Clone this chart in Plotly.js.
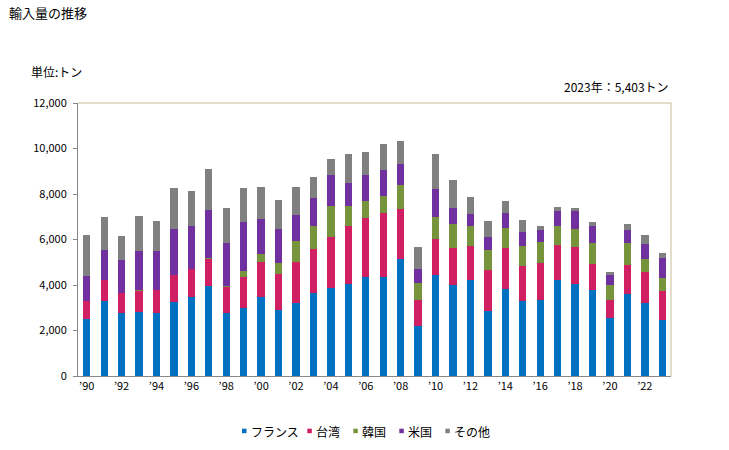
<!DOCTYPE html>
<html>
<head>
<meta charset="utf-8">
<script src="https://cdn.plot.ly/plotly-3.0.1.min.js"></script>
<style>html,body{margin:0;padding:0;background:#fff;}#chart{width:729px;height:450px;}</style>
</head>
<body>
<div id="chart"></div>
<script>
const years = [1990,1991,1992,1993,1994,1995,1996,1997,1998,1999,2000,2001,2002,2003,2004,2005,2006,2007,2008,2009,2010,2011,2012,2013,2014,2015,2016,2017,2018,2019,2020,2021,2022,2023];
const france = [2500,3300,2770,2830,2770,3270,3480,3960,2770,3010,3480,2920,3210,3650,3890,4060,4330,4360,5150,2220,4450,4000,4240,2860,3830,3300,3360,4240,4060,3800,2570,3620,3210,2480];
const taiwan = [800,940,880,920,1010,1170,1230,1190,1150,1320,1550,1580,1820,1940,2230,2540,2620,2820,2200,1140,1580,1630,1480,1800,1800,1540,1610,1530,1610,1140,790,1260,1360,1260];
const korea  = [0,0,0,50,0,0,0,45,45,290,350,470,910,1010,1360,880,750,750,1060,730,970,1060,880,880,880,880,920,840,790,910,650,970,570,570];
const usa    = [1100,1300,1450,1700,1720,2020,1890,2110,1890,2160,1530,1470,1145,1230,1360,1010,1140,1140,920,620,1230,700,530,570,660,620,530,660,790,750,440,570,660,880];
const other  = [1800,1450,1060,1540,1320,1800,1540,1800,1540,1500,1410,1310,1230,920,700,1280,1010,1140,1010,970,1540,1230,750,700,530,530,180,180,130,180,130,260,400,213];
const seriesNames = ['フランス','台湾','韓国','米国','その他'];
const seriesColors = ['#0070C0','#D01F62','#77933C','#7030A0','#808080'];
const tickVals = [1990,1992,1994,1996,1998,2000,2002,2004,2006,2008,2010,2012,2014,2016,2018,2020,2022];
const tickText = ['’90','’92','’94','’96','’98','’00','’02','’04','’06','’08','’10','’12','’14','’16','’18','’20','’22'];
const yTicks = [0,2000,4000,6000,8000,10000,12000];
const yTickText = ['0','2,000','4,000','6,000','8,000','10,000','12,000'];

const W = 729, H = 450;
const M = {l: 78, r: 58, t: 103, b: 74};
const PW = W - M.l - M.r, PH = H - M.t - M.b;
const px = x => (x - M.l) / PW;
const py = y => (H - M.b - y) / PH;

const font = "'Noto Sans CJK JP', 'Noto Sans', sans-serif";
const allSeries = [france, taiwan, korea, usa, other];
const traces = allSeries.map((vals, i) => ({
  type: 'bar', x: years, y: vals, name: seriesNames[i],
  marker: {color: seriesColors[i], line: {width: 0}},
  width: 0.42, hoverinfo: 'x+y+name', showlegend: false
}));

// custom legend (pixel positions of marker squares and labels)
const legSquareX = [242, 307.3, 353.3, 399.3, 445.3];
const legTextX = [248.5, 314, 360, 406, 452];
const legY = 431;
const shapes = [
  {type: 'line', xref: 'paper', yref: 'paper', x0: 0, x1: 1, y0: 1, y1: 1, line: {color: '#C4BC96', width: 1}},
  {type: 'line', xref: 'paper', yref: 'paper', x0: 1, x1: 1, y0: 0, y1: 1, line: {color: '#C4BC96', width: 1}}
];
const annotations = [
  {text: '輸入量の推移', xref: 'paper', yref: 'paper', x: px(7), y: py(12), xanchor: 'left', yanchor: 'middle',
   showarrow: false, font: {family: font, size: 13, color: '#000'}},
  {text: '単位:トン', xref: 'paper', yref: 'paper', x: px(29), y: py(72), xanchor: 'left', yanchor: 'middle',
   showarrow: false, font: {family: font, size: 12, color: '#000'}},
  {text: '2023年：5,403トン', xref: 'paper', yref: 'paper', x: 1, y: py(86), xanchor: 'right', yanchor: 'middle',
   showarrow: false, font: {family: font, size: 12, color: '#000'}}
];
seriesNames.forEach((n, i) => {
  shapes.push({type: 'rect', xref: 'paper', yref: 'paper',
    x0: px(legSquareX[i]), x1: px(legSquareX[i] + 4.5), y0: py(legY + 2.2), y1: py(legY - 2.3),
    fillcolor: seriesColors[i], line: {width: 0}});
  annotations.push({text: n, xref: 'paper', yref: 'paper', x: px(legTextX[i]), y: py(legY),
    xanchor: 'left', yanchor: 'middle', showarrow: false, font: {family: font, size: 12, color: '#000'}});
});

const layout = {
  width: W, height: H,
  margin: M,
  barmode: 'stack',
  paper_bgcolor: '#fff', plot_bgcolor: '#fff',
  font: {family: font, size: 11, color: '#000'},
  showlegend: false,
  xaxis: {range: [1989.5, 2023.5], tickmode: 'array', tickvals: tickVals, ticktext: tickText,
          showgrid: false, zeroline: false, showline: true, linecolor: '#888', linewidth: 1,
          ticks: '', tickfont: {family: font, size: 11, color: '#000'}, fixedrange: true, automargin: false},
  yaxis: {range: [0, 12000], tickmode: 'array', tickvals: yTicks, ticktext: yTickText,
          showgrid: false, zeroline: false, showline: true, linecolor: '#888', linewidth: 1,
          ticks: 'outside', ticklen: 4, tickcolor: '#888', ticklabelstandoff: 4,
          tickfont: {family: font, size: 11, color: '#000'}, fixedrange: true, automargin: false},
  shapes: shapes,
  annotations: annotations
};
Plotly.newPlot('chart', traces, layout, {displayModeBar: false, staticPlot: true});
</script>
</body>
</html>
